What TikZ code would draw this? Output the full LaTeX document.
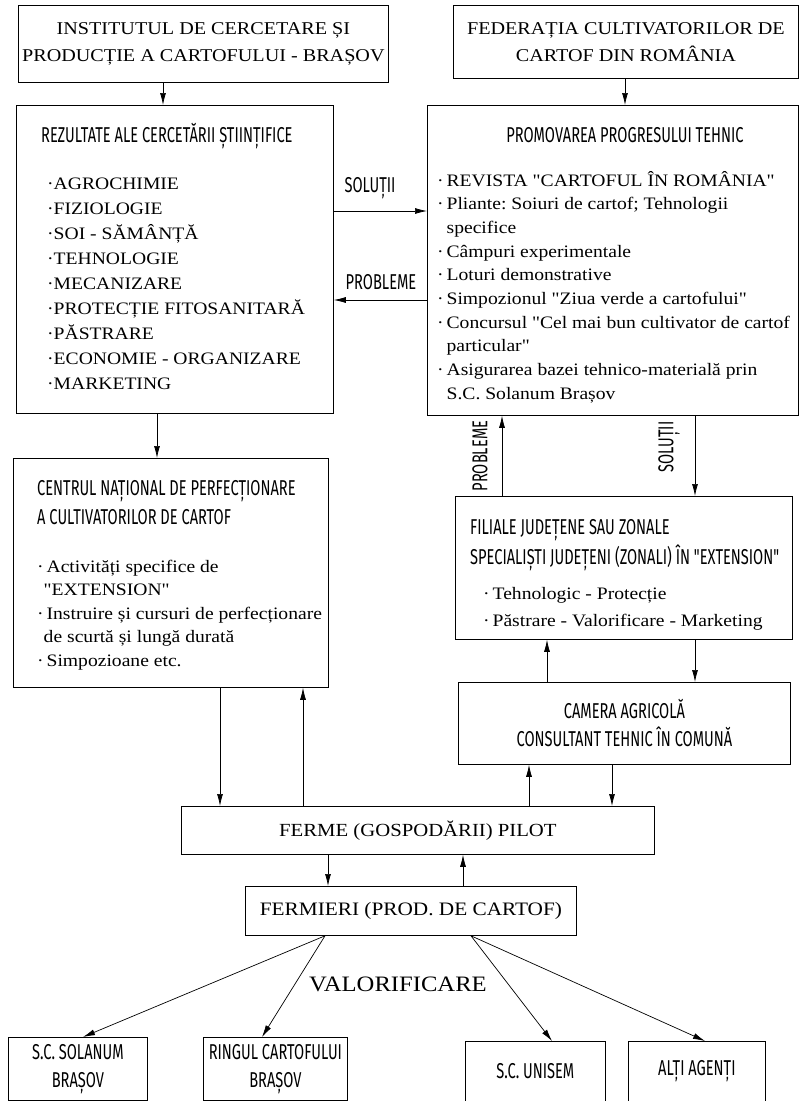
\documentclass[tikz,border=0pt]{standalone}
\usepackage{fontspec}
\setmainfont{Liberation Serif}[Ligatures=TeXOff, FakeStretch=1.12]
\newfontfamily\cond{Fira Sans}[FakeStretch=0.68]
\usetikzlibrary{arrows.meta}
\frenchspacing
\begin{document}
\begin{tikzpicture}[x=1pt,y=-1pt,
  box/.style={draw, line width=0.8pt, rectangle, inner sep=0pt, anchor=north west},
  ser/.style={inner sep=0pt, font=\fontsize{17.5}{27}\selectfont},
  sert/.style={inner sep=0pt, font=\fontsize{18}{27}\selectfont},
  cnd/.style={inner sep=0pt, font=\cond\fontsize{21.5}{28}\selectfont},
  arr/.style={line width=0.7pt, -{Latex[length=12pt,width=6pt]}}]
\useasboundingbox (0,0) rectangle (800,1101);
% helper coordinates
\foreach \v in {83,157,163,220,262,303,325,328,463,471,502,529,547,552,612,625,695,705}
  \coordinate (x\v) at (\v,0);
\coordinate (y211) at (0,211);
\coordinate (y300) at (0,300);
% boxes
\node[box, minimum width=370pt, minimum height=77pt] (A) at (18,5) {};
\node[box, minimum width=345pt, minimum height=73pt] (B) at (453,5) {};
\node[box, minimum width=317pt, minimum height=308pt] (C) at (16,105) {};
\node[box, minimum width=371pt, minimum height=310pt] (D) at (427,105) {};
\node[box, minimum width=315pt, minimum height=229pt] (E) at (13,458) {};
\node[box, minimum width=337pt, minimum height=143pt] (F) at (455,496) {};
\node[box, minimum width=332pt, minimum height=82pt] (G) at (458,682) {};
\node[box, minimum width=473pt, minimum height=48pt] (H) at (181,806) {};
\node[box, minimum width=331pt, minimum height=49pt] (I) at (245,886) {};
\node[box, minimum width=139pt, minimum height=63pt] (J) at (8,1037) {};
\node[box, minimum width=144pt, minimum height=63pt] (K) at (203,1037) {};
\node[box, minimum width=140pt, minimum height=60pt] (L) at (465,1041) {};
\node[box, minimum width=137pt, minimum height=60pt] (M) at (628,1041) {};
% texts
\node[sert, align=center] (At) at (A.center) {INSTITUTUL DE CERCETARE ȘI\\PRODUCȚIE A CARTOFULUI - BRAȘOV};
\node[sert, align=center] (Bt) at (B.center) {FEDERAȚIA CULTIVATORILOR DE\\CARTOF DIN ROMÂNIA};
\node[cnd, anchor=base west] (Ct) at (41,142) {REZULTATE ALE CERCETĂRII ȘTIINȚIFICE};
\foreach \t [count=\i] in {AGROCHIMIE,FIZIOLOGIE,SOI - SĂMÂNȚĂ,TEHNOLOGIE,MECANIZARE,PROTECȚIE FITOSANITARĂ,PĂSTRARE,ECONOMIE - ORGANIZARE,MARKETING}
  \node[ser, anchor=base west] (c\i) at (47,{189+25*(\i-1)}) {·\t};
\node[cnd, anchor=base] (Dt) at (625,142) {PROMOVAREA PROGRESULUI TEHNIC};
\foreach \t [count=\i] in {{·\,REVISTA "CARTOFUL ÎN ROMÂNIA"},{·\,Pliante: Soiuri de cartof; Tehnologii},{\phantom{·\,}specifice},{·\,Câmpuri experimentale},{·\,Loturi demonstrative},{·\,Simpozionul "Ziua verde a cartofului"},{·\,Concursul "Cel mai bun cultivator de cartof},{\phantom{·\,}particular"},{·\,Asigurarea bazei tehnico-materială prin},{\phantom{·\,}S.C. Solanum Brașov}}
  \node[ser, anchor=base west] (d\i) at (437,{186+23.7*(\i-1)}) {\t};
\node[cnd, anchor=base west] (Et1) at (37,495) {CENTRUL NAȚIONAL DE PERFECȚIONARE};
\node[cnd, anchor=base west] (Et2) at (37,524) {A CULTIVATORILOR DE CARTOF};
\foreach \t [count=\i] in {{·\,Activități specifice de},{\phantom{·}"EXTENSION"},{·\,Instruire și cursuri de perfecționare},{\phantom{·}de scurtă și lungă durată},{·\,Simpozioane etc.}}
  \node[ser, anchor=base west] (e\i) at (37,{572+23.5*(\i-1)}) {\t};
\node[cnd, anchor=base west] (Ft1) at (470,534) {FILIALE JUDEȚENE SAU ZONALE};
\node[cnd, anchor=base west] (Ft2) at (470,564) {SPECIALIȘTI JUDEȚENI (ZONALI) ÎN "EXTENSION"};
\node[ser, anchor=base west] (f1) at (483,599) {·\,Tehnologic - Protecție};
\node[ser, anchor=base west] (f2) at (483,626) {·\,Păstrare - Valorificare - Marketing};
\node[cnd, align=center] (Gt) at (G.center) {CAMERA AGRICOLĂ\\CONSULTANT TEHNIC ÎN COMUNĂ};
\node[inner sep=0pt, font=\fontsize{18.5}{27}\selectfont] (Ht) at (H.center) {FERME (GOSPODĂRII) PILOT};
\node[inner sep=0pt, font=\fontsize{19}{27}\selectfont] (It) at (I.center) {FERMIERI (PROD. DE CARTOF)};
\node[inner sep=0pt, font=\fontsize{22}{27}\selectfont] (V) at (398,984) {VALORIFICARE};
\node[cnd, align=center] (Jt) at (J.center) {S.C. SOLANUM\\BRAȘOV};
\node[cnd, align=center] (Kt) at (K.center) {RINGUL CARTOFULUI\\BRAȘOV};
\node[cnd] (Lt) at (L.center) {S.C. UNISEM};
\node[cnd] (Mt) at (M.center) {ALȚI AGENȚI};
% connectors
\draw[arr] (A.south -| x163) -- (C.north -| x163);
\draw[arr] (B.south -| x625) -- (D.north -| x625);
\draw[arr] (C.east |- y211) -- (D.west |- y211);
\draw[arr] (D.west |- y300) -- (C.east |- y300);
\node[cnd] (s1) at (370,188) {SOLUȚII};
\node[cnd] (p1) at (381,282) {PROBLEME};
\draw[arr] (C.south -| x157) -- (E.north -| x157);
\draw[arr] (F.north -| x502) -- (D.south -| x502);
\draw[arr] (D.south -| x695) -- (F.north -| x695);
\node[cnd, rotate=90] (p2) at (480,456) {PROBLEME};
\node[cnd, rotate=90] (s2) at (669,447) {SOLUȚII};
\draw[arr] (G.north -| x547) -- (F.south -| x547);
\draw[arr] (F.south -| x695) -- (G.north -| x695);
\draw[arr] (E.south -| x220) -- (H.north -| x220);
\draw[arr] (H.north -| x303) -- (E.south -| x303);
\draw[arr] (H.north -| x529) -- (G.south -| x529);
\draw[arr] (G.south -| x612) -- (H.north -| x612);
\draw[arr] (H.south -| x328) -- (I.north -| x328);
\draw[arr] (I.north -| x463) -- (H.south -| x463);
\draw[arr] (I.south -| x325) -- (J.north -| x83);
\draw[arr] (I.south -| x325) -- (K.north -| x262);
\draw[arr] (I.south -| x471) -- (L.north -| x552);
\draw[arr] (I.south -| x471) -- (M.north -| x705);
\end{tikzpicture}
\end{document}
